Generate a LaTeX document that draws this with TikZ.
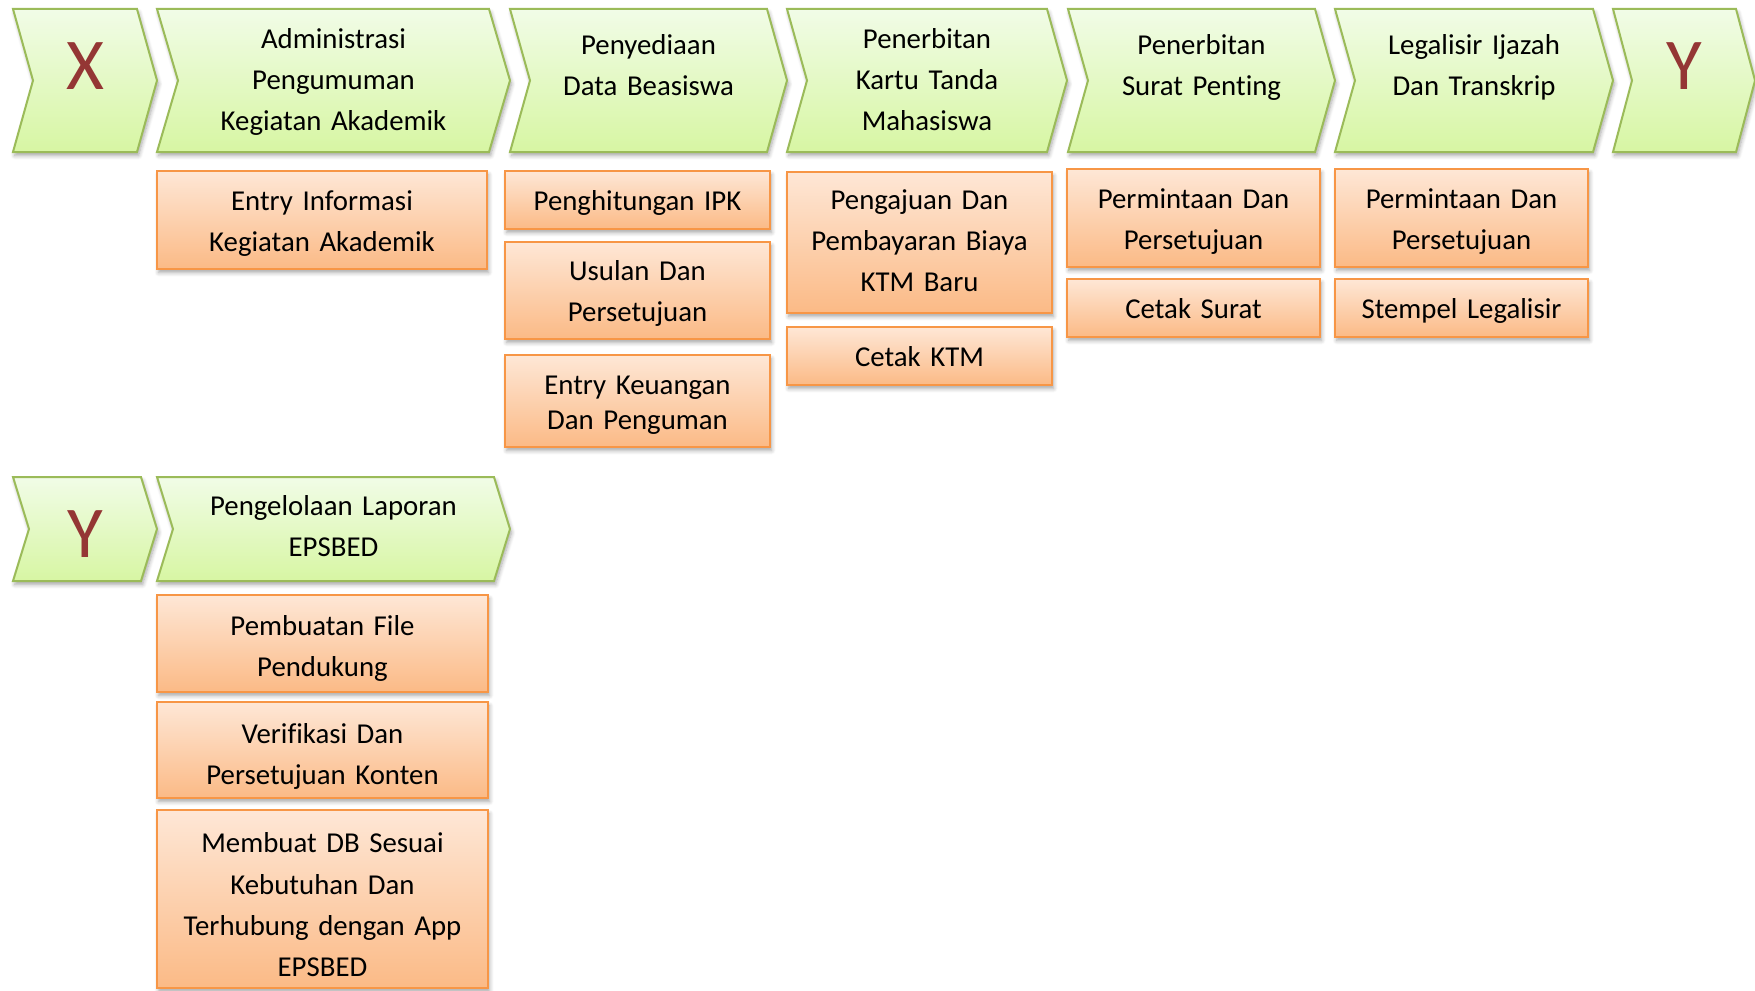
\documentclass[tikz,border=0pt]{standalone}
\usepackage{fontspec}
\setmainfont{Carlito}[Ligatures={NoCommon}]
\usetikzlibrary{shadows.blur}

\definecolor{gtop}{HTML}{F1FCE7}
\definecolor{gbot}{HTML}{D7F6A3}
\definecolor{gline}{HTML}{9BBB59}
\definecolor{otop}{HTML}{FEE7D6}
\definecolor{obot}{HTML}{FBBA86}
\definecolor{oline}{HTML}{F79646}
\definecolor{markred}{HTML}{943634}

\tikzset{
  softshadow/.style={blur shadow={shadow xshift=0.8pt, shadow yshift=-1.8pt,
      shadow blur radius=2pt, shadow blur steps=6, shadow opacity=35}},
  chevshape/.style={draw=gline, line width=1pt, line join=miter,
      top color=gtop, bottom color=gbot, softshadow},
  taskbox/.style={draw=oline, line width=1pt, rectangle, inner sep=0pt,
      top color=otop, bottom color=obot, softshadow},
  steptext/.style={font=\fontsize{14.4}{20.5}\selectfont, align=center,
      inner sep=0pt, anchor=base, text=black, yshift=-0.8pt},
  widetext/.style={steptext, font=\fontsize{14.4}{20.7}\selectfont},
  tighttext/.style={steptext, font=\fontsize{14.4}{17.5}\selectfont},
  bigletter/.style={font=\fontsize{36.5}{40}\selectfont, align=center,
      inner sep=0pt, anchor=base, text=markred},
}

% chevron: name, left, right, top, bottom, point depth, first baseline, text style, text
\newcommand\chevron[9]{%
  \path[chevshape] (#2,#4) -- (#3,#4) -- ({#3+#6},{(#4+#5)/2}) -- (#3,#5)
    -- (#2,#5) -- ({#2+#6},{(#4+#5)/2}) -- cycle;
  \node[#8, text width={(#3-#2)*0.5pt}] (#1) at ({(#2+#3+#6)/2},#7) {#9};
}
% task box: name, left, top, right, bottom, first baseline, text style, text
\newcommand\taskitem[8]{%
  \node[taskbox, minimum width={(#4-#2)*0.5pt}, minimum height={(#5-#3)*0.5pt}]
    (#1) at ({(#2+#4)/2},{(#3+#5)/2}) {};
  \node[#7, text width={(#4-#2)*0.5pt}] (#1-t) at ({(#2+#4)/2},#6) {#8};
}

\begin{document}
\begin{tikzpicture}[x=0.5pt, y=-0.5pt]
\useasboundingbox (0,0) rectangle (1755,990);

% first row of stages
\chevron{X1}{13}{137}{9}{152}{20}{90}{bigletter}{X}
\chevron{admin}{157}{489}{9}{152}{21}{47}{steptext}{Administrasi\\Pengumuman\\Kegiatan Akademik}
\chevron{beasiswa}{510}{767}{9}{152}{20}{53}{steptext}{Penyediaan\\Data Beasiswa}
\chevron{ktm}{787}{1047}{9}{152}{20}{47}{steptext}{Penerbitan\\Kartu Tanda\\Mahasiswa}
\chevron{surat}{1068}{1315}{9}{152}{20}{53}{steptext}{Penerbitan\\Surat Penting}
\chevron{legal}{1335}{1593}{9}{152}{20}{53}{steptext}{Legalisir Ijazah\\Dan Transkrip}
\chevron{Y1}{1613}{1736}{9}{152}{19}{90}{bigletter}{Y}

% tasks under each stage
\taskitem{a1}{157}{171}{487}{269}{208.5}{steptext}{Entry Informasi\\Kegiatan Akademik}

\taskitem{b1}{505}{171}{770}{229}{208.5}{steptext}{Penghitungan IPK}
\taskitem{b2}{505}{242}{770}{339}{279}{steptext}{Usulan Dan\\Persetujuan}
\taskitem{b3}{505}{355}{770}{447}{392.5}{tighttext}{Entry Keuangan\\Dan Penguman}

\taskitem{c1}{787}{172}{1052}{313}{208}{steptext}{Pengajuan Dan\\Pembayaran Biaya\\KTM Baru}
\taskitem{c2}{787}{327}{1052}{385}{365}{steptext}{Cetak KTM}

\taskitem{d1}{1067}{169}{1320}{267}{206.5}{steptext}{Permintaan Dan\\Persetujuan}
\taskitem{d2}{1067}{279}{1320}{337}{317}{steptext}{Cetak Surat}

\taskitem{e1}{1335}{169}{1588}{267}{206.5}{steptext}{Permintaan Dan\\Persetujuan}
\taskitem{e2}{1335}{279}{1588}{337}{317}{steptext}{Stempel Legalisir}

% second row of stages
\chevron{Y2}{13}{141}{477}{581}{16}{557}{bigletter}{Y}
\chevron{epsbed}{157}{494}{477}{581}{16}{514}{steptext}{Pengelolaan Laporan\\EPSBED}

\taskitem{f1}{157}{595}{488}{692}{634}{steptext}{Pembuatan File\\Pendukung}
\taskitem{f2}{157}{702}{488}{798}{742}{steptext}{Verifikasi Dan\\Persetujuan Konten}
\taskitem{f3}{157}{810}{488}{988}{851}{widetext}{Membuat DB Sesuai\\Kebutuhan Dan\\Terhubung dengan App\\EPSBED}
\end{tikzpicture}
\end{document}
